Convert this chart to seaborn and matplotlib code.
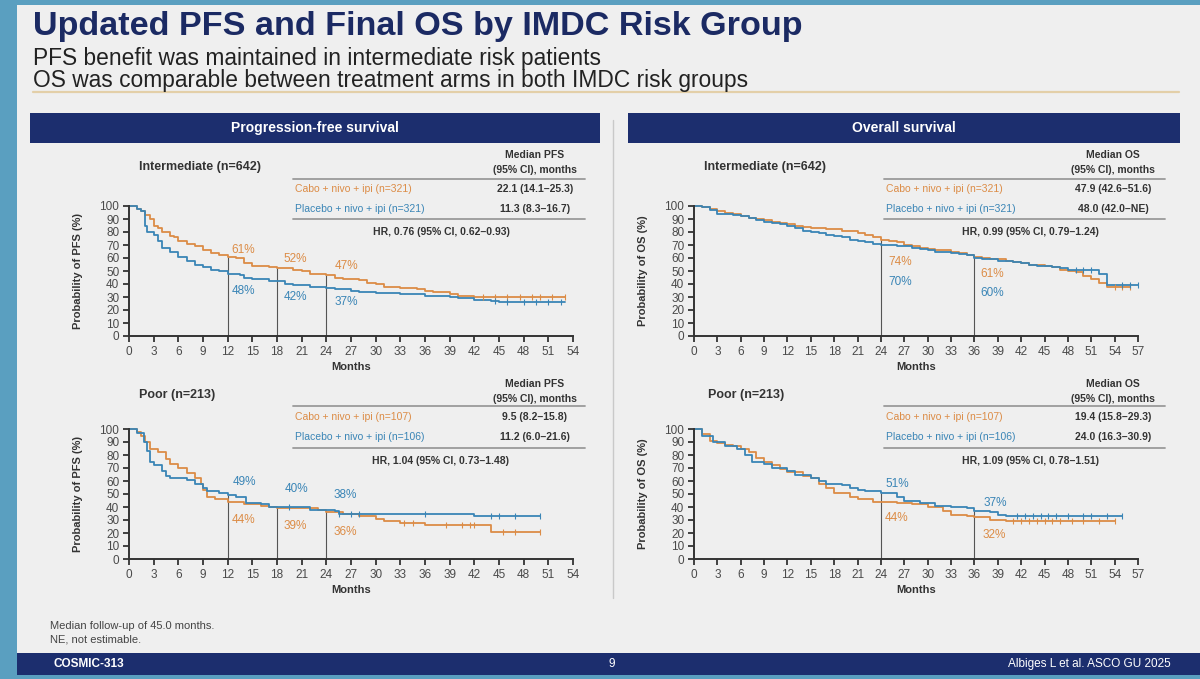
import numpy as np
import pandas as pd
import matplotlib
matplotlib.use("Agg")
import matplotlib.pyplot as plt
from matplotlib import font_manager
from matplotlib.lines import Line2D
from matplotlib.patches import Rectangle
import seaborn as sns

# ---- values ----
arms = ["Cabo + nivo + ipi", "Placebo + nivo + ipi"]

# PFS, intermediate risk
pfs_int_cabo_t = [0, 1, 1.5, 2, 2.5, 3, 3.5, 4, 5, 5.5, 6, 7, 8, 9, 10, 11, 12, 13, 14, 15,
                  17, 18, 20, 21, 22, 24, 25, 26, 28, 29, 30, 31, 33, 35, 36, 37, 39, 40, 42, 44, 53]
pfs_int_cabo_s = [100, 98, 96, 93, 90, 85, 83, 80, 77, 76, 73, 71, 69, 66, 64, 62, 61, 60, 56, 54,
                  53, 52, 51, 50, 48, 47, 45, 44, 43, 41, 40, 38, 37, 36, 35, 34, 32, 31, 30, 30, 30]
pfs_int_plac_t = [0, 1, 1.5, 2, 2.2, 3, 3.5, 4, 5, 6, 7, 8, 9, 10, 11, 12, 13.5, 14, 15, 17,
                  19, 20, 22, 24, 25, 27, 28, 30, 33, 36, 39, 40, 42, 44, 45, 53]
pfs_int_plac_s = [100, 98, 96, 85, 80, 78, 73, 68, 65, 61, 58, 55, 53, 51, 50, 48, 47, 45, 44, 42,
                  40, 39, 38, 37, 36, 35, 34, 33, 32, 31, 30, 29, 28, 27, 26, 26]
pfs_int_cabo_cens = [43, 44.5, 46, 47.5, 49, 50, 51.5, 53]
pfs_int_plac_cens = [44.5, 46, 48, 49.5, 51, 52.5]
pfs_int_n = [321, 321]
pfs_int_median = ["22.1 (14.1–25.3)", "11.3 (8.3–16.7)"]
pfs_int_hr = "HR, 0.76 (95% CI, 0.62–0.93)"
pfs_int_landmarks = [12, 18, 24]
pfs_int_pct_cabo = [61, 52, 47]
pfs_int_pct_plac = [48, 42, 37]

# OS, intermediate risk
os_int_cabo_t = [0, 1, 2, 3, 4, 5, 6, 7, 8, 9, 10, 11, 12, 13, 14, 15, 16, 17, 18, 19,
                 20, 21, 22, 23, 24, 25, 26, 27, 28, 29, 30, 31, 32, 33, 34, 35, 36, 37, 38, 39,
                 40, 41, 42, 43, 44, 45, 46, 47, 48, 49, 50, 51, 52, 53, 54, 55, 56]
os_int_cabo_s = [100, 99, 98, 96, 95, 94, 92, 91, 90, 89, 88, 87, 86, 85, 84, 83, 83, 82, 82, 81,
                 81, 79, 78, 76, 74, 73, 72, 70, 69, 68, 67, 66, 66, 65, 64, 62, 61, 60, 59, 59,
                 58, 57, 56, 55, 55, 54, 53, 51, 50, 49, 46, 44, 41, 38, 38, 38, 38]
os_int_plac_t = [0, 1, 2, 3, 4, 5, 6, 7, 8, 9, 10, 11, 12, 13, 14, 15, 16, 17, 18, 19,
                 20, 21, 22, 23, 24, 25, 26, 27, 28, 29, 30, 31, 32, 33, 34, 35, 36, 37, 38, 39,
                 40, 41, 42, 43, 44, 45, 46, 47, 48, 49, 50, 51, 52, 53, 54, 55, 56, 57]
os_int_plac_s = [100, 99, 97, 94, 94, 93, 92, 91, 89, 88, 87, 86, 85, 83, 81, 80, 79, 78, 77, 76,
                 74, 73, 72, 71, 70, 70, 69, 69, 68, 67, 66, 65, 65, 64, 63, 62, 60, 59, 59, 58,
                 58, 57, 56, 55, 54, 54, 53, 52, 51, 51, 51, 51, 48, 39, 39, 39, 39, 39]
os_int_cabo_cens = [54, 55, 56]
os_int_plac_cens = [49, 50, 51, 55, 56, 57]
os_int_n = [321, 321]
os_int_median = ["47.9 (42.6–51.6)", "48.0 (42.0–NE)"]
os_int_hr = "HR, 0.99 (95% CI, 0.79–1.24)"
os_int_landmarks = [24, 36]
os_int_pct_cabo = [74, 61]
os_int_pct_plac = [70, 60]

# PFS, poor risk
pfs_poor_cabo_t = [0, 1, 1.5, 2, 2.5, 3.5, 4.5, 5, 6, 7, 8, 8.7, 9, 9.5, 10.5, 12, 14, 16, 17, 18,
                   23, 24, 26, 28, 30, 31, 33, 36, 44, 50]
pfs_poor_cabo_s = [100, 98, 95, 90, 85, 82, 77, 73, 70, 66, 62, 58, 53, 48, 46, 44, 42, 41, 40, 39,
                   38, 36, 35, 33, 31, 29, 28, 26, 21, 21]
pfs_poor_plac_t = [0, 1, 1.8, 2.2, 2.5, 3, 4, 4.5, 5, 7, 8, 9, 9.5, 11, 12, 13, 14.2, 16, 17, 22,
                   25, 25.5, 42, 50]
pfs_poor_plac_s = [100, 97, 90, 83, 75, 72, 68, 64, 62, 61, 58, 55, 52, 51, 49, 48, 43, 42, 40, 38,
                   37, 35, 33, 33]
pfs_poor_cabo_cens = [33.5, 34.5, 38.5, 40.5, 41.5, 42, 45.5, 47, 50]
pfs_poor_plac_cens = [19.5, 25.5, 27, 28, 36, 44, 45, 47, 50]
pfs_poor_n = [107, 106]
pfs_poor_median = ["9.5 (8.2–15.8)", "11.2 (6.0–21.6)"]
pfs_poor_hr = "HR, 1.04 (95% CI, 0.73–1.48)"
pfs_poor_landmarks = [12, 18, 24]
pfs_poor_pct_cabo = [44, 39, 36]
pfs_poor_pct_plac = [49, 40, 38]

# OS, poor risk
os_poor_cabo_t = [0, 1, 2, 3, 4, 5, 6, 7, 8, 9, 10, 11, 12, 14, 15, 16, 17, 18, 20, 21,
                  23, 26, 28, 30, 32, 33, 35, 36, 38, 40, 54]
os_poor_cabo_s = [100, 96, 91, 89, 88, 87, 85, 82, 78, 75, 72, 69, 67, 64, 62, 58, 55, 51, 48, 46,
                  44, 43, 42, 40, 37, 34, 33, 32, 30, 29, 29]
os_poor_plac_t = [0, 1, 2.5, 4, 5.5, 6.5, 7.5, 9, 10, 12, 13, 15, 16, 17, 19, 20, 21, 22, 24, 26,
                  27, 29, 31, 33, 35, 36, 38, 39, 40, 55]
os_poor_plac_s = [100, 95, 90, 87, 85, 80, 75, 73, 70, 68, 65, 62, 60, 58, 57, 55, 53, 52, 51, 48,
                  45, 43, 41, 40, 39, 37, 36, 34, 33, 33]
os_poor_cabo_cens = [41, 42, 43, 44, 45, 46, 47, 48.5, 50, 52, 54]
os_poor_plac_cens = [41.5, 42.5, 43.5, 44.5, 45.5, 46.5, 48, 50, 51, 53, 55]
os_poor_n = [107, 106]
os_poor_median = ["19.4 (15.8–29.3)", "24.0 (16.3–30.9)"]
os_poor_hr = "HR, 1.09 (95% CI, 0.78–1.51)"
os_poor_landmarks = [24, 36]
os_poor_pct_cabo = [44, 32]
os_poor_pct_plac = [51, 37]

# ---- style ----
W, H = 1200, 679
ORANGE = "#dc8c46"
BLUE = "#3a85b6"
NAVY = "#1c2e6e"
TEAL = "#5a9fc0"
SLIDE = "#efefef"
DARK = "#333333"

sns.set_theme(style="white")
plt.rcParams["font.family"] = ["Liberation Sans", "DejaVu Sans"]
names = {f.name for f in font_manager.fontManager.ttflist}
NARROW = "Liberation Sans Narrow" if "Liberation Sans Narrow" in names else "Liberation Sans"

fig = plt.figure(figsize=(W / 100, H / 100), dpi=100)
fig.patch.set_facecolor(TEAL)


def fx(x):
    return x / W


def fy(y):
    return 1 - y / H


def rect(x0, y0, x1, y1, color):
    fig.add_artist(Rectangle((fx(x0), fy(y1)), (x1 - x0) / W, (y1 - y0) / H,
                             transform=fig.transFigure, color=color, lw=0, zorder=0))


def hline(x0, x1, y, color, lw):
    fig.add_artist(Line2D([fx(x0), fx(x1)], [fy(y), fy(y)], transform=fig.transFigure,
                          color=color, lw=lw))


def text(x, y, s, **kw):
    kw.setdefault("va", "center")
    return fig.text(fx(x), fy(y), s, **kw)


def fit(t, width_px):
    r = fig.canvas.get_renderer()
    w = t.get_window_extent(r).width
    t.set_fontsize(t.get_fontsize() * width_px / w)


def step_at(t, s, x):
    i = np.searchsorted(t, x, side="right") - 1
    return s[i]


# slide background, header and footer
rect(17, 5, 1200, 675, SLIDE)
rect(17, 653, 1200, 675, NAVY)
title = text(33, 27, "Updated PFS and Final OS by IMDC Risk Group", color="#1b2a63",
             fontsize=24, fontweight="bold", family=NARROW)
fit(title, 772)
sub1 = text(33, 58, "PFS benefit was maintained in intermediate risk patients",
            color="#222222", fontsize=13, family=NARROW)
fit(sub1, 566)
sub2 = text(33, 80, "OS was comparable between treatment arms in both IMDC risk groups",
            color="#222222", fontsize=sub1.get_fontsize(), family=NARROW)
hline(33, 1179, 92, "#e3cfa8", 1.6)

rect(30, 113, 600, 143, NAVY)
rect(628, 113, 1180, 143, NAVY)
text(315, 128, "Progression-free survival", color="white", fontsize=10, fontweight="bold",
     ha="center")
text(904, 128, "Overall survival", color="white", fontsize=10, fontweight="bold", ha="center")
fig.add_artist(Line2D([fx(613), fx(613)], [fy(120), fy(598)], transform=fig.transFigure,
                      color="#c9c9c9", lw=1))

text(50, 626, "Median follow-up of 45.0 months.", color="#444444", fontsize=8, family=NARROW)
text(50, 640, "NE, not estimable.", color="#444444", fontsize=8, family=NARROW)
text(53, 664, "COSMIC-313", color="white", fontsize=8.5, fontweight="bold", family=NARROW)
text(612, 664, "9", color="white", fontsize=8.5, ha="center", family=NARROW)
text(1171, 664, "Albiges L et al. ASCO GU 2025", color="white", fontsize=8.5, ha="right",
     family=NARROW)

# ---- panels ----
LEFT_TX = dict(lx=293, rx=585, vx=535, hx=441)
RIGHT_TX = dict(lx=884, rx=1165, vx=1113, hx=1030)
TOP_TY = dict(h1=155, h2=170, l1=179, r1=189, r2=209, l2=219, hr=232)
BOT_TY = dict(h1=384, h2=399, l1=406, r1=417, r2=437, l2=448, hr=461)

panels = [
    dict(rect=(129, 206, 573, 336), xmax=54, kind="PFS", title="Intermediate (n=642)",
         title_xy=(139, 167),
         cabo=(pfs_int_cabo_t, pfs_int_cabo_s, pfs_int_cabo_cens),
         plac=(pfs_int_plac_t, pfs_int_plac_s, pfs_int_plac_cens),
         landmarks=pfs_int_landmarks, pct=(pfs_int_pct_cabo, pfs_int_pct_plac),
         pct_xy=([(13.9, 66), (20.2, 59.5), (26.4, 54)], [(13.9, 35), (20.2, 30), (26.4, 26)]),
         tx=LEFT_TX, ty=TOP_TY, n=pfs_int_n, med=pfs_int_median, hr=pfs_int_hr),
    dict(rect=(694, 206, 1138, 336), xmax=57, kind="OS", title="Intermediate (n=642)",
         title_xy=(704, 167),
         cabo=(os_int_cabo_t, os_int_cabo_s, os_int_cabo_cens),
         plac=(os_int_plac_t, os_int_plac_s, os_int_plac_cens),
         landmarks=os_int_landmarks, pct=(os_int_pct_cabo, os_int_pct_plac),
         pct_xy=([(26.5, 56.7), (38.3, 48)], [(26.5, 41.5), (38.3, 33.4)]),
         tx=RIGHT_TX, ty=TOP_TY, n=os_int_n, med=os_int_median, hr=os_int_hr),
    dict(rect=(129, 429, 573, 559), xmax=54, kind="PFS", title="Poor (n=213)",
         title_xy=(139, 395),
         cabo=(pfs_poor_cabo_t, pfs_poor_cabo_s, pfs_poor_cabo_cens),
         plac=(pfs_poor_plac_t, pfs_poor_plac_s, pfs_poor_plac_cens),
         landmarks=pfs_poor_landmarks, pct=(pfs_poor_pct_cabo, pfs_poor_pct_plac),
         pct_xy=([(13.9, 30), (20.2, 25.6), (26.3, 21)], [(14.1, 58.9), (20.4, 53.8), (26.3, 49)]),
         tx=LEFT_TX, ty=BOT_TY, n=pfs_poor_n, med=pfs_poor_median, hr=pfs_poor_hr),
    dict(rect=(694, 429, 1138, 559), xmax=57, kind="OS", title="Poor (n=213)",
         title_xy=(708, 395),
         cabo=(os_poor_cabo_t, os_poor_cabo_s, os_poor_cabo_cens),
         plac=(os_poor_plac_t, os_poor_plac_s, os_poor_plac_cens),
         landmarks=os_poor_landmarks, pct=(os_poor_pct_cabo, os_poor_pct_plac),
         pct_xy=([(26.0, 31.9), (38.6, 18.4)], [(26.1, 57.4), (38.7, 43.3)]),
         tx=RIGHT_TX, ty=BOT_TY, n=os_poor_n, med=os_poor_median, hr=os_poor_hr),
]

for p in panels:
    x0, y0, x1, y1 = p["rect"]
    ax = fig.add_axes([fx(x0), fy(y1), (x1 - x0) / W, (y1 - y0) / H])
    ax.patch.set_alpha(0)

    curves = [p["cabo"], p["plac"]]
    df = pd.concat([pd.DataFrame({"Months": c[0], "Prob": c[1], "Arm": arm})
                    for c, arm in zip(curves, arms)], ignore_index=True)
    sns.lineplot(data=df, x="Months", y="Prob", hue="Arm", hue_order=arms,
                 palette=[ORANGE, BLUE], estimator=None, sort=False,
                 drawstyle="steps-post", linewidth=1.3, legend=False, ax=ax)
    for c, col in zip(curves, [ORANGE, BLUE]):
        cy = [step_at(c[0], c[1], t) for t in c[2]]
        ax.plot(c[2], cy, ls="none", marker="|", ms=4, mew=0.8, color=col)
    for ln in ax.lines:
        ln.set_clip_on(False)

    tops = [max(step_at(curves[0][0], curves[0][1], m), step_at(curves[1][0], curves[1][1], m))
            for m in p["landmarks"]]
    ax.vlines(p["landmarks"], 0, tops, color="#555555", lw=0.8, zorder=1)

    for vals, xy, col in zip(p["pct"], p["pct_xy"], [ORANGE, BLUE]):
        for v, (px, py) in zip(vals, xy):
            ax.text(px, py, f"{v}%", color=col, fontsize=8.5, ha="center", va="center")

    ax.set_xlim(0, p["xmax"])
    ax.set_ylim(0, 100)
    ax.set_xticks(np.arange(0, p["xmax"] + 1, 3))
    ax.set_yticks(np.arange(0, 101, 10))
    sns.despine(ax=ax)
    for side in ["left", "bottom"]:
        ax.spines[side].set_linewidth(1.4)
        ax.spines[side].set_color(DARK)
    ax.tick_params(direction="out", length=4.5, width=1.3, color=DARK, labelsize=8.5,
                   labelcolor="#4a4a4a", pad=2.5, left=True, bottom=True)
    ax.set_xlabel("Months", fontsize=8, fontweight="bold", color=DARK, labelpad=3)
    ax.set_ylabel(f"Probability of {p['kind']} (%)", fontsize=8, fontweight="bold",
                  color=DARK, labelpad=12)

    # group title and the median table
    text(*p["title_xy"], p["title"], fontsize=9, fontweight="bold", color=DARK)
    tx, ty = p["tx"], p["ty"]
    text(tx["vx"], ty["h1"], f"Median {p['kind']}", fontsize=7.5, fontweight="bold",
         color=DARK, ha="center")
    text(tx["vx"], ty["h2"], "(95% CI), months", fontsize=7.5, fontweight="bold",
         color=DARK, ha="center")
    hline(tx["lx"], tx["rx"], ty["l1"], "#9a9a9a", 1.3)
    hline(tx["lx"], tx["rx"], ty["l2"], "#9a9a9a", 1.3)
    for arm, n, med, col, key in zip(arms, p["n"], p["med"], [ORANGE, BLUE], ["r1", "r2"]):
        text(tx["lx"] + 2, ty[key], f"{arm} (n={n})", fontsize=7.5, color=col)
        text(tx["vx"], ty[key], med, fontsize=7.5, fontweight="bold", color=DARK, ha="center")
    text(tx["hx"], ty["hr"], p["hr"], fontsize=7.5, fontweight="bold", color=DARK, ha="center")

fig.savefig("out.png", dpi=100, facecolor=fig.get_facecolor())
